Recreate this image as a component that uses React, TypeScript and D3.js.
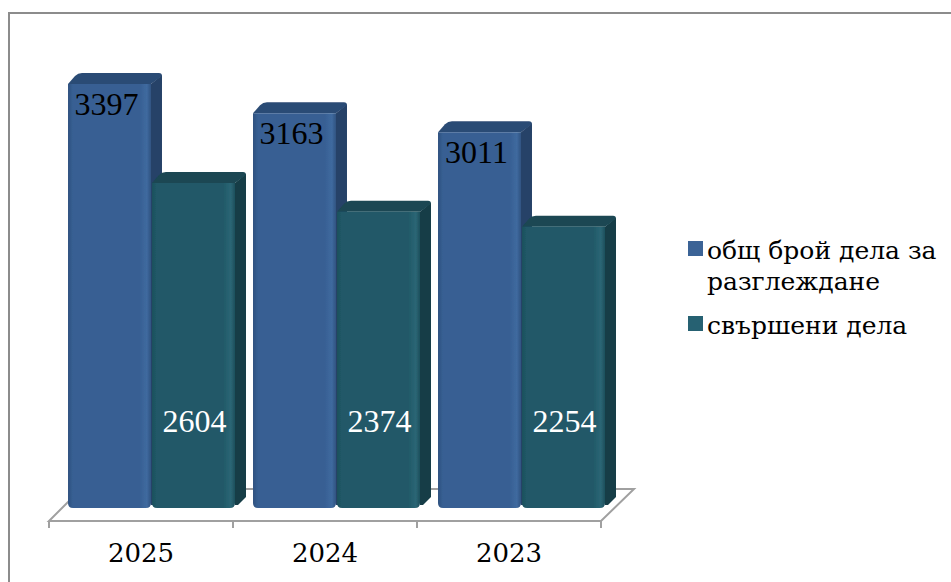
import React from "react";
import * as d3 from "d3";

const categories = ["2025", "2024", "2023"];
const seriesNames = ["общ брой дела за разглеждане", "свършени дела"];
const totalCases = [3397, 3163, 3011];
const finishedCases = [2604, 2374, 2254];
const legendLines = [["общ брой дела за", "разглеждане"], ["свършени дела"]];

const W = 951, H = 582;
const DX = 11, DY = 11;
const baseY = 508;
const floorY = 521;
const x0 = d3.scaleBand<string>().domain(categories).range([49, 601]);
const xBars = d3.scaleBand<string>().domain(categories).range([68, 623]);
const x1 = d3.scaleBand<string>().domain(seriesNames).range([0, 167]).paddingInner(0.012);
const y = d3.scaleLinear().domain([0, 3397]).range([baseY, 84]);

const palette = [
  { front: "#375f93", edge: "#3f6a9f", dark: "#2f5280", top: "#2c4b74", side: "#264368", legend: "#3b6396" },
  { front: "#215968", edge: "#2b6675", dark: "#1c4f5c", top: "#1a4752", side: "#163c46", legend: "#266172" },
];
const labelFill = ["#000", "#fff"];
const labelDx = [-3, 1];

function Bar({ cat, s, v }: { cat: string; s: number; v: number }) {
  const bx = (xBars(cat) as number) + (x1(seriesNames[s]) as number);
  const w = x1.bandwidth();
  const t = y(v);
  const c = palette[s];
  const top = `M${bx},${t} L${bx + DX - 4},${t - DY + 3} Q${bx + DX - 1},${t - DY} ${bx + DX + 3},${t - DY} L${bx + w + DX - 3},${t - DY} Q${bx + w + DX},${t - DY} ${bx + w + DX},${t - DY + 3} L${bx + w},${t} Z`;
  const side = `M${bx + w},${t} L${bx + w + DX},${t - DY + 2} L${bx + w + DX},${baseY - DY} L${bx + w + 3},${baseY - 3} L${bx + w},${baseY - 3} Z`;
  return (
    <g filter="url(#soft)">
      <path d={side} fill={c.side} />
      <path d={top} fill={c.top} />
      <path d={`M${bx},${t} H${bx + w} V${baseY - 5} Q${bx + w},${baseY} ${bx + w - 5},${baseY} H${bx + 5} Q${bx},${baseY} ${bx},${baseY - 5} Z`} fill={`url(#grad${s})`} />
    </g>
  );
}

export default function App() {
  const serifLabel = "'Liberation Serif', 'Times New Roman', serif";
  const wide = "'DejaVu Serif', serif";
  const ticks = [...categories.map((c) => x0(c) as number), 601];
  return (
    <svg width={W} height={H} viewBox={`0 0 ${W} ${H}`} style={{ position: "absolute", left: 0, top: 0 }}>
      <defs>
        {palette.map((c, i) => (
          <linearGradient key={i} id={`grad${i}`} x1="0" x2="1" y1="0" y2="0">
            <stop offset="0" stopColor={c.dark} />
            <stop offset="0.06" stopColor={c.front} />
            <stop offset="0.86" stopColor={c.front} />
            <stop offset="0.95" stopColor={c.edge} />
            <stop offset="1" stopColor={c.dark} />
          </linearGradient>
        ))}
        <filter id="soft" x="-5%" y="-5%" width="110%" height="110%">
          <feGaussianBlur stdDeviation="0.6" />
        </filter>
      </defs>
      <rect width={W} height={H} fill="#fff" />
      <path d={`M9,${H} V13 H${W}`} fill="none" stroke="#8c8c8c" strokeWidth={2} />

      <path d={`M${x0.range()[0]},${floorY} H601 L634,489 H81 Z`} fill="none" stroke="#a0a0a0" strokeWidth={2} />
      {ticks.map((t, i) => (
        <line key={i} x1={t} x2={t} y1={floorY} y2={floorY + 7} stroke="#a0a0a0" strokeWidth={2} />
      ))}

      {categories.map((c, i) => (
        <g key={c}>
          <Bar cat={c} s={0} v={totalCases[i]} />
          <Bar cat={c} s={1} v={finishedCases[i]} />
        </g>
      ))}

      {categories.map((c, i) => {
        const cx0 = (xBars(c) as number) + (x1(seriesNames[0]) as number) + x1.bandwidth() / 2 + labelDx[0];
        const cx1 = (xBars(c) as number) + (x1(seriesNames[1]) as number) + x1.bandwidth() / 2 + labelDx[1];
        return (
          <g key={c} fontFamily={serifLabel} fontSize={32} textAnchor="middle">
            <text x={cx0} y={y(totalCases[i]) + 31} fill={labelFill[0]}>{totalCases[i]}</text>
            <text x={cx1} y={baseY - 76} fill={labelFill[1]}>{finishedCases[i]}</text>
          </g>
        );
      })}

      {categories.map((c) => (
        <text key={c} x={(x0(c) as number) + x0.bandwidth() / 2} y={562} textAnchor="middle" fontFamily={wide} fontSize={26} fill="#000">
          {c}
        </text>
      ))}

      <g fontFamily={wide} fontSize={25} fill="#000">
        <rect x={688} y={241} width={15} height={15} fill={palette[0].legend} />
        <text x={707} y={259}>{legendLines[0][0]}</text>
        <text x={707} y={290}>{legendLines[0][1]}</text>
        <rect x={688} y={316} width={15} height={15} fill={palette[1].legend} />
        <text x={707} y={334}>{legendLines[1][0]}</text>
      </g>
    </svg>
  );
}
